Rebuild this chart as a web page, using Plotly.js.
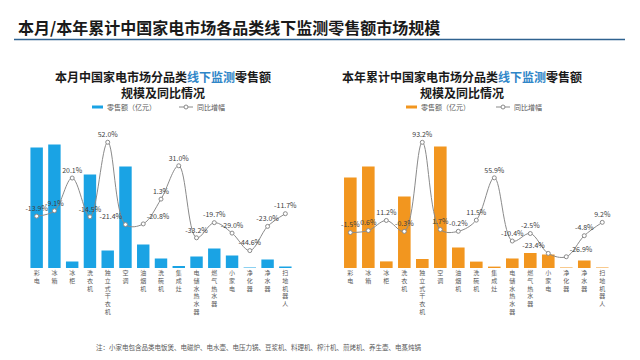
<!DOCTYPE html>
<html>
<head>
<meta charset="utf-8">
<script src="https://cdn.plot.ly/plotly-3.0.1.min.js"></script>
<style>html,body{margin:0;padding:0;background:#fff;}#chart{width:640px;height:360px;}</style>
</head>
<body>
<div id="chart"></div>
<script>
const categories = ["彩电","冰箱","冰柜","洗衣机","独立式干衣机","空调","油烟机","洗碗机","集成灶","电储水热水器","燃气热水器","小家电","净化器","净水器","扫地机器人"];
const monthSales = [60.3, 61.7, 3.2, 46.7, 8.7, 50.7, 11.8, 4.8, 1.0, 5.7, 9.7, 6.3, 0.3, 4.3, 0.8];
const monthYoY = [-13.9, -9.1, 20.1, -14.5, 52.0, -21.4, -20.8, 1.3, 31.0, -33.2, -19.7, -29.0, -44.6, -23.0, -11.7];
const yearSales = [453, 507, 33, 358, 45, 608, 102, 32, 7, 48, 75, 67, 3, 37, 3];
const yearYoY = [-1.5, 0.6, 11.2, -0.3, 93.2, 1.7, -0.2, 11.5, 55.9, -10.4, -2.5, -23.4, -26.9, -4.8, 9.2];
const salesName = "零售额（亿元）";
const yoyName = "同比增幅";

const W = 640, H = 360;
const px = v => v / W;
const py = v => (H - v) / H;
const FONT = '"Noto Sans CJK SC", "Noto Sans", sans-serif';
const tickText = categories.map(c => c.split('').join('<br>'));
const fmt = v => v.toFixed(1) + '%';

// label placement: mostly centred above the point, crowded neighbours pushed apart
const monthPos = categories.map(() => 'top center');
monthPos[5] = 'top left'; monthPos[6] = 'top right';
const yearPos = categories.map(() => 'top center');
yearPos[11] = 'top left'; yearPos[12] = 'top right';

const LINE_C = '#8a8a8a';
const lineStyle = {color: LINE_C, width: 1, shape: 'spline', smoothing: 1};
const markerStyle = {size: 4, color: '#ffffff', line: {color: LINE_C, width: 1}};
const BLUE = '#1aa3e4', ORANGE = '#f2961f';

const traces = [
  {type: 'bar', x: categories, y: monthSales, name: salesName, marker: {color: BLUE},
   xaxis: 'x', yaxis: 'y'},
  {type: 'scatter', mode: 'lines+markers+text', x: categories, y: monthYoY, name: yoyName,
   text: monthYoY.map(fmt), textposition: monthPos, cliponaxis: false,
   textfont: {size: 7, color: '#404040', family: FONT},
   line: lineStyle, marker: markerStyle, xaxis: 'x', yaxis: 'y2'},
  {type: 'bar', x: categories, y: yearSales, name: salesName, marker: {color: ORANGE},
   xaxis: 'x2', yaxis: 'y3'},
  {type: 'scatter', mode: 'lines+markers+text', x: categories, y: yearYoY, name: yoyName,
   text: yearYoY.map(fmt), textposition: yearPos, cliponaxis: false,
   textfont: {size: 7, color: '#404040', family: FONT},
   line: lineStyle, marker: markerStyle, xaxis: 'x2', yaxis: 'y4'}
];

const yDom = [py(268), py(130)];
const xAxisCommon = {
  type: 'category', tickmode: 'array', tickvals: categories, ticktext: tickText,
  showgrid: false, zeroline: false, showline: false, ticks: '',
  tickfont: {size: 6, color: '#595959', family: FONT}, tickangle: 0, fixedrange: true
};
const yHidden = {visible: false, showgrid: false, zeroline: false, fixedrange: true};

// legend (drawn with shapes + annotations)
function legendParts(barX0, color, lineX0) {
  const yc = 107;
  const shapes = [
    {type: 'rect', xref: 'paper', yref: 'paper', x0: px(barX0), x1: px(barX0 + 11), y0: py(yc + 1.5), y1: py(yc - 1.5),
     fillcolor: color, line: {width: 0}},
    {type: 'line', xref: 'paper', yref: 'paper', x0: px(lineX0), x1: px(lineX0 + 14), y0: py(yc), y1: py(yc),
     line: {color: LINE_C, width: 1}},
    {type: 'circle', xref: 'paper', yref: 'paper', x0: px(lineX0 + 5), x1: px(lineX0 + 9), y0: py(yc + 2), y1: py(yc - 2),
     fillcolor: '#ffffff', line: {color: LINE_C, width: 1}}
  ];
  const anns = [
    {xref: 'paper', yref: 'paper', x: px(barX0 + 13), y: py(yc), xanchor: 'left', yanchor: 'middle', showarrow: false,
     text: salesName, font: {size: 7, color: '#595959', family: FONT}},
    {xref: 'paper', yref: 'paper', x: px(lineX0 + 16), y: py(yc), xanchor: 'left', yanchor: 'middle', showarrow: false,
     text: yoyName, font: {size: 7, color: '#595959', family: FONT}}
  ];
  return {shapes, anns};
}
const lg1 = legendParts(92, BLUE, 179);
const lg2 = legendParts(406, ORANGE, 496);

function subTitle(cx, line1) {
  const f = {size: 12, color: '#1a1a1a', family: FONT};
  return [
    {xref: 'paper', yref: 'paper', x: px(cx), y: py(76.5), xanchor: 'center', yanchor: 'middle', showarrow: false,
     text: '<b>' + line1 + '<span style="color:#2f86c8">线下监测</span>零售额</b>', font: f},
    {xref: 'paper', yref: 'paper', x: px(cx), y: py(93), xanchor: 'center', yanchor: 'middle', showarrow: false,
     text: '<b>规模及同比情况</b>', font: f}
  ];
}

const layout = {
  width: W, height: H,
  margin: {l: 0, r: 0, t: 0, b: 0},
  paper_bgcolor: '#ffffff', plot_bgcolor: 'rgba(0,0,0,0)',
  font: {family: FONT},
  bargap: 0.3,
  showlegend: false,
  xaxis: Object.assign({}, xAxisCommon, {domain: [px(19.5), px(302.5)], anchor: 'y'}),
  yaxis: Object.assign({}, yHidden, {domain: yDom, range: [0, 69], anchor: 'x'}),
  yaxis2: Object.assign({}, yHidden, {overlaying: 'y', anchor: 'x', range: [-60.1, 62.9]}),
  xaxis2: Object.assign({}, xAxisCommon, {domain: [px(333), px(619.6)], anchor: 'y3'}),
  yaxis3: Object.assign({}, yHidden, {domain: yDom, range: [0, 690], anchor: 'x2'}),
  yaxis4: Object.assign({}, yHidden, {overlaying: 'y3', anchor: 'x2', range: [-38.7, 106.1]}),
  shapes: [
    {type: 'line', xref: 'paper', yref: 'paper', x0: px(14), x1: px(625), y0: py(39.5), y1: py(39.5),
     line: {color: '#2f6290', width: 1.5}}
  ].concat(lg1.shapes, lg2.shapes),
  annotations: [
    {xref: 'paper', yref: 'paper', x: px(16), y: py(27), xanchor: 'left', yanchor: 'middle', showarrow: false,
     text: '<b>本月/本年累计中国家电市场各品类线下监测零售额市场规模</b>',
     font: {size: 16, color: '#1a1a1a', family: FONT}},
    {xref: 'paper', yref: 'paper', x: px(94), y: py(346.5), xanchor: 'left', yanchor: 'middle', showarrow: false,
     text: '注：小家电包含品类电饭煲、电磁炉、电水壶、电压力锅、豆浆机、料理机、榨汁机、煎烤机、养生壶、电蒸炖锅',
     font: {size: 6.5, color: '#595959', family: FONT}}
  ].concat(subTitle(163, '本月中国家电市场分品类'), subTitle(462, '本年累计中国家电市场分品类'), lg1.anns, lg2.anns)
};

Plotly.newPlot('chart', traces, layout, {staticPlot: true, displayModeBar: false});
</script>
</body>
</html>
